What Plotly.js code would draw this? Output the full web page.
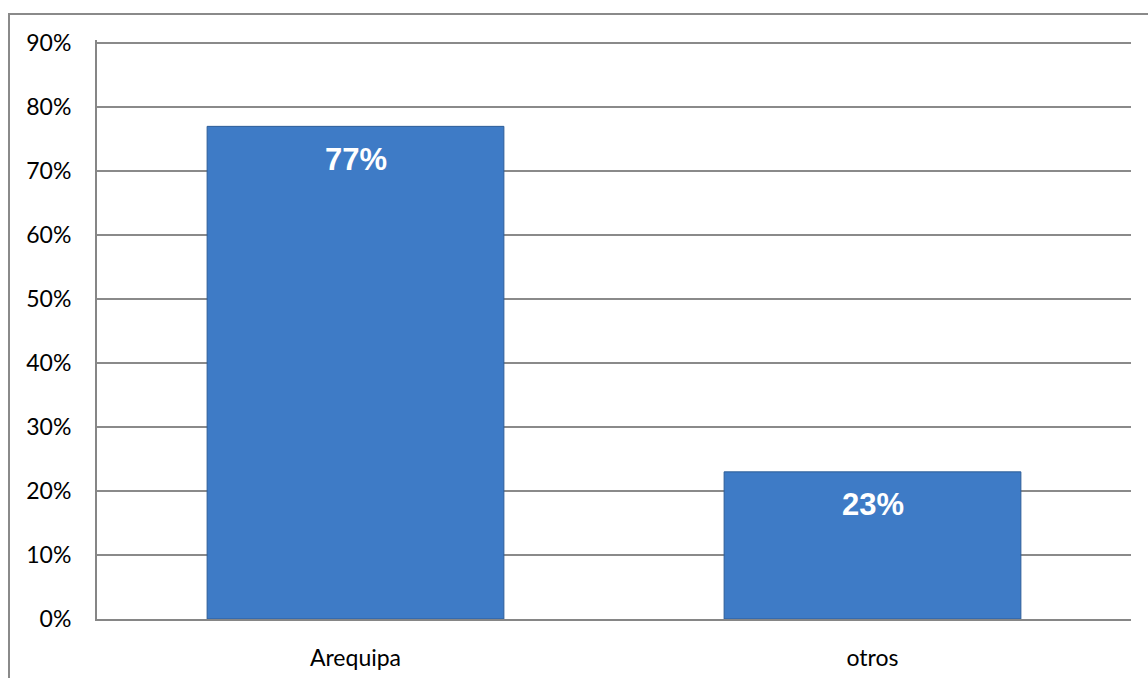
<!DOCTYPE html>
<html>
<head>
<meta charset="utf-8">
<script src="https://cdn.plot.ly/plotly-3.0.1.min.js"></script>
<style>html,body{margin:0;padding:0;background:#fff;}#chart{width:1148px;height:678px;}</style>
</head>
<body>
<div id="chart"></div>
<script>
const categories = ["Arequipa", "otros"];
const values = [0.77, 0.23];
const labels = ["77%", "23%"];
const yTickVals = [0, 0.1, 0.2, 0.3, 0.4, 0.5, 0.6, 0.7, 0.8, 0.9];
const yTickText = ["0%", "10%", "20%", "30%", "40%", "50%", "60%", "70%", "80%", "90%"];

const trace = {
  type: "bar",
  x: categories,
  y: values,
  width: 0.574,
  marker: { color: "#3e7bc6", line: { color: "#2d5d98", width: 1 } },
  hoverinfo: "skip"
};

const annotations = categories.map((c, i) => ({
  x: c, y: values[i], xref: "x", yref: "y",
  text: "<b>" + labels[i] + "</b>",
  showarrow: false, yanchor: "middle", yshift: -33,
  font: { family: "Liberation Sans, Arial, sans-serif", size: 31, color: "#ffffff" }
}));

const layout = {
  width: 1148, height: 678,
  margin: { l: 97, r: 17, t: 40, b: 59 },
  paper_bgcolor: "#ffffff", plot_bgcolor: "#ffffff",
  showlegend: false,
  bargap: 0,
  xaxis: {
    type: "category",
    showline: true, linecolor: "#868686", linewidth: 2,
    showgrid: false, ticks: "", ticklabelstandoff: 17,
    tickfont: { family: "Lato, Carlito, sans-serif", size: 23, color: "#000" },
    fixedrange: true
  },
  yaxis: {
    range: [0, 0.905],
    tickvals: yTickVals, ticktext: yTickText,
    showline: true, linecolor: "#868686", linewidth: 2,
    showgrid: true, gridcolor: "#8a8a8a", gridwidth: 2,
    zeroline: false, ticks: "", ticklabelstandoff: 19,
    tickfont: { family: "Lato, Carlito, sans-serif", size: 23, color: "#000" },
    fixedrange: true
  },
  annotations: annotations,
  shapes: [{
    type: "rect", xref: "paper", yref: "paper",
    x0: -0.0851, x1: 1.02, y0: -0.11, y1: 1.045,
    line: { color: "#8a8a8a", width: 2 }, fillcolor: "rgba(0,0,0,0)", layer: "above"
  }]
};

Plotly.newPlot("chart", [trace], layout, { displayModeBar: false, staticPlot: true });
</script>
</body>
</html>
